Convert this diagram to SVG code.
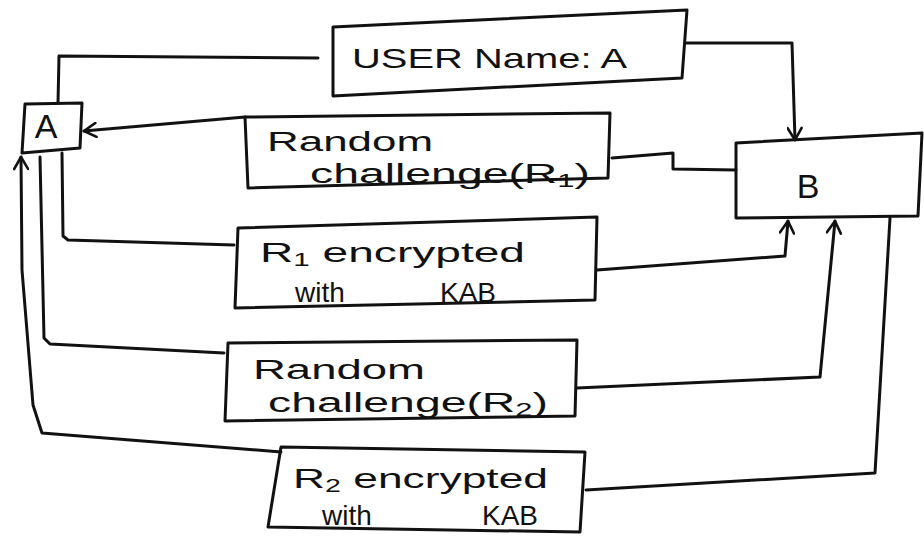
<svg xmlns="http://www.w3.org/2000/svg" width="924" height="540" viewBox="0 0 924 540">
  <style>
    .box{fill:none;stroke:#111;stroke-width:3;stroke-linejoin:round}
    .wire{fill:none;stroke:#111;stroke-width:3;stroke-linejoin:round;stroke-linecap:round}
    .lbl{font-family:"Liberation Sans",Arial,sans-serif;fill:#111;font-size:28px}
    .tight{font-size:27px}
    .big{font-size:34px}
    .sub{font-size:18px}
  </style>
  <defs>
    <marker id="arrow" viewBox="0 0 16 16" refX="14" refY="8" markerWidth="16" markerHeight="16" markerUnits="userSpaceOnUse" orient="auto">
      <path d="M2,1 L14,8 L2,15" fill="none" stroke="#111" stroke-width="2.6" stroke-linecap="round" stroke-linejoin="round"/>
    </marker>
  </defs>
  <rect width="924" height="540" fill="#ffffff"/>

  <!-- connectors -->
  <g id="connectors">
    <!-- A to user name box -->
    <polyline class="wire" points="58,103 59,56 318,58"/>
    <!-- user name box to B -->
    <polyline class="wire" points="686,43 792,43 795,140" marker-end="url(#arrow)"/>
    <!-- B to challenge R1 -->
    <polyline class="wire" points="736,170 673,169 673,153 612,158"/>
    <!-- challenge R1 to A -->
    <polyline class="wire" points="245,117 84,131" marker-end="url(#arrow)"/>
    <!-- A to R1 encrypted -->
    <polyline class="wire" points="62,153 63,236 68,240 234,245"/>
    <!-- R1 encrypted to B -->
    <polyline class="wire" points="597,270 785,256 788,221" marker-end="url(#arrow)"/>
    <!-- A to challenge R2 -->
    <polyline class="wire" points="40,157 44,338 50,344 224,353"/>
    <!-- challenge R2 to B -->
    <polyline class="wire" points="577,388 820,377 835,221" marker-end="url(#arrow)"/>
    <!-- B to R2 encrypted -->
    <polyline class="wire" points="890,218 875,473 586,490"/>
    <!-- R2 encrypted to A -->
    <polyline class="wire" points="281,452 42,433 33,405 22,270 21,157" marker-end="url(#arrow)"/>
  </g>

  <g id="node-a">
    <polygon class="box" points="25,104 82,103 80,148 22,153"/>
    <text class="lbl big" x="46" y="138" text-anchor="middle">A</text>
  </g>

  <g id="node-username">
    <polygon class="box" points="333,27 687,10 682,78 333,96"/>
    <text class="lbl" x="352" y="68" textLength="275" lengthAdjust="spacingAndGlyphs">USER Name: A</text>
  </g>

  <g id="node-b">
    <polygon class="box" points="736,143 922,133 918,216 736,218"/>
    <text class="lbl big" x="808" y="198" text-anchor="middle">B</text>
  </g>

  <g id="node-challenge-r1">
    <polygon class="box" points="245,117 610,113 608,178 248,188"/>
    <text class="lbl tight" x="267" y="151" textLength="166" lengthAdjust="spacingAndGlyphs">Random</text>
    <text class="lbl tight" x="310" y="183" textLength="280" lengthAdjust="spacingAndGlyphs">challenge(R<tspan class="sub" dy="4">1</tspan><tspan dy="-4">)</tspan></text>
  </g>

  <g id="node-r1-encrypted">
    <polygon class="box" points="238,228 597,217 595,300 235,308"/>
    <text class="lbl" x="260" y="262" textLength="265" lengthAdjust="spacingAndGlyphs">R<tspan class="sub" dy="4">1</tspan><tspan dy="-4"> encrypted</tspan></text>
    <text class="lbl" y="302"><tspan x="295">with</tspan><tspan x="440">KAB</tspan></text>
  </g>

  <g id="node-challenge-r2">
    <polygon class="box" points="228,343 577,340 575,416 225,421"/>
    <text class="lbl tight" x="253" y="379" textLength="172" lengthAdjust="spacingAndGlyphs">Random</text>
    <text class="lbl tight" x="268" y="412" textLength="280" lengthAdjust="spacingAndGlyphs">challenge(R<tspan class="sub" dy="4">2</tspan><tspan dy="-4">)</tspan></text>
  </g>

  <g id="node-r2-encrypted">
    <polygon class="box" points="281,447 585,452 580,532 268,527"/>
    <text class="lbl" x="293" y="488" textLength="255" lengthAdjust="spacingAndGlyphs">R<tspan class="sub" dy="4">2</tspan><tspan dy="-4"> encrypted</tspan></text>
    <text class="lbl" y="525"><tspan x="322">with</tspan><tspan x="482">KAB</tspan></text>
  </g>
</svg>
